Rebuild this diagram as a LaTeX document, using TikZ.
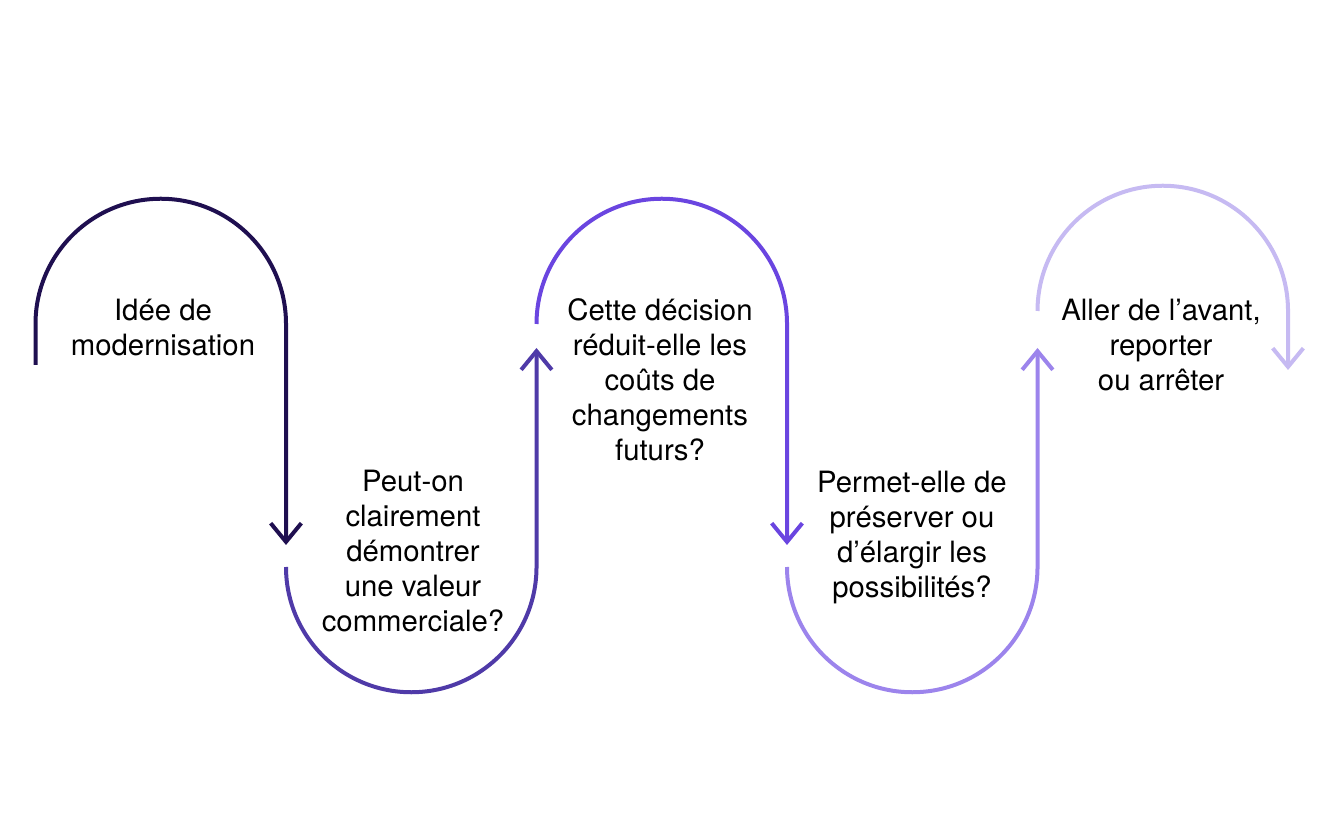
\documentclass[tikz,border=0pt]{standalone}
\usepackage{fontspec}
\setmainfont{TeX Gyre Heros}
\usetikzlibrary{arrows.meta}
\definecolor{wave1}{HTML}{1F0F50}
\definecolor{wave2}{HTML}{4F3AA8}
\definecolor{wave3}{HTML}{6A45E0}
\definecolor{wave4}{HTML}{9C84EC}
\definecolor{wave5}{HTML}{C6BAF2}
\tikzset{wave/.style={line width=3pt, -{Straight Barb[length=14pt,width=23pt]}},
%text inside the loops
txt/.style={align=center, inner sep=0pt, font=\fontsize{22}{26.25}\selectfont}}

\begin{document}
\begin{tikzpicture}[x=0.75pt,y=0.75pt]

    \useasboundingbox (0,0) rectangle (1333,817);

    \coordinate (0) at (35.5,452);
    \coordinate (1) at (286,272);
    \coordinate (2) at (286,250);
    \coordinate (3) at (536.5,469);
    \coordinate (4) at (536.5,493);
    \coordinate (5) at (787,272);
    \coordinate (6) at (787,250);
    \coordinate (7) at (1037.5,469);
    \coordinate (8) at (1037.5,506);
    \coordinate (9) at (1288,447);

    \draw[wave, wave1] (0) -- ++(0,41) arc[start angle=180, end angle=0, radius=93.94pt] -- (1);
    \draw[wave, wave2] (2) arc[start angle=180, end angle=360, radius=93.94pt] -- (3);
    \draw[wave, wave3] (4) arc[start angle=180, end angle=0, radius=93.94pt] -- (5);
    \draw[wave, wave4] (6) arc[start angle=180, end angle=360, radius=93.94pt] -- (7);
    \draw[wave, wave5] (8) arc[start angle=180, end angle=0, radius=93.94pt] -- (9);

    \node[txt] (idea) at (163,489.5) {Idée de\\modernisation};
    \node[txt] (value) at (413,266) {Peut-on\\clairement\\démontrer\\une valeur\\commerciale?};
    \node[txt] (cost) at (660,437) {Cette décision\\réduit-elle les\\coûts de\\changements\\futurs?};
    \node[txt] (options) at (912,279) {Permet-elle de\\préserver ou\\d’élargir les\\possibilités?};
    \node[txt] (decide) at (1161,472) {Aller de l’avant,\\reporter\\ou arrêter};

  \end{tikzpicture}
\end{document}
